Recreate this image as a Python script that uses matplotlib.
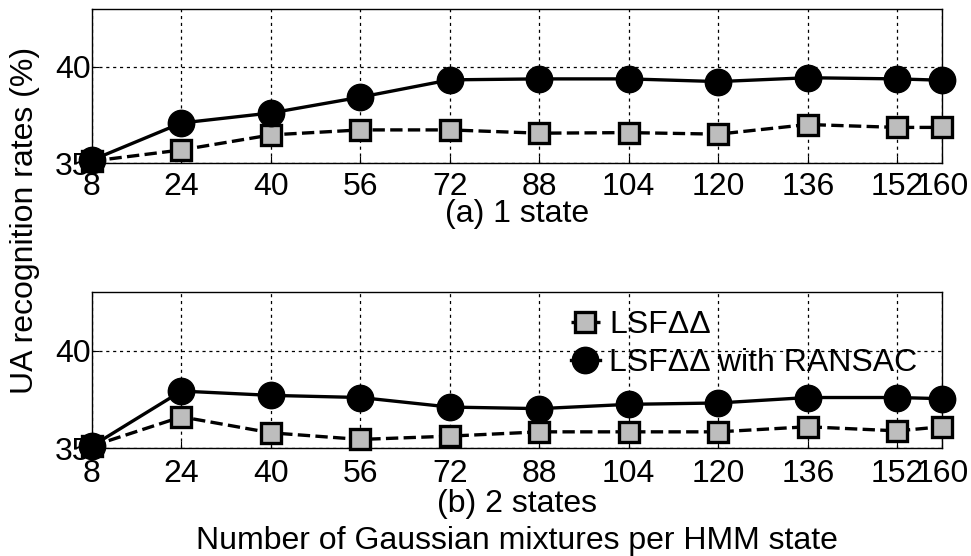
import numpy as np
import matplotlib
matplotlib.use("Agg")
import matplotlib.pyplot as plt

plt.rcParams['font.family'] = ['Liberation Sans', 'DejaVu Sans']

# 데이터
mixtures = [8, 24, 40, 56, 72, 88, 104, 120, 136, 152, 160]
lsf_1state = [35.1, 35.68, 36.46, 36.72, 36.72, 36.55, 36.58, 36.5, 37.0, 36.85, 36.85]
ransac_1state = [35.15, 37.08, 37.6, 38.42, 39.32, 39.37, 39.37, 39.23, 39.43, 39.37, 39.3]
lsf_2state = [35.1, 36.6, 35.78, 35.44, 35.61, 35.83, 35.83, 35.83, 36.09, 35.88, 36.09]
ransac_2state = [35.1, 37.92, 37.7, 37.59, 37.1, 37.02, 37.24, 37.31, 37.59, 37.59, 37.53]
y_ticks = [35, 40]
labels = ['LSF\u0394\u0394', 'LSF\u0394\u0394 with RANSAC']

fig = plt.figure(figsize=(9.71, 5.56), dpi=100)
ax1 = fig.add_axes([0.0947, 0.7068, 0.8754, 0.277])
ax2 = fig.add_axes([0.0947, 0.1942, 0.8754, 0.2806])

fs = 23

def draw(ax, lsf, ransac, title, pad, lpad):
    ax.plot(mixtures, lsf, '--', color='black', lw=2.4, marker='s', ms=15,
            mfc='#bdbdbd', mec='black', mew=2.4, label=labels[0], zorder=3,
            clip_on=False)
    ax.plot(mixtures, ransac, '-', color='black', lw=2.4, marker='o', ms=19,
            mfc='black', mec='black', label=labels[1], zorder=4, clip_on=False)
    ax.set_xlim(8, 160)
    ax.set_ylim(35, 43)
    ax.set_xticks(mixtures)
    ax.set_yticks(y_ticks)
    ax.tick_params(axis='y', direction='in', labelsize=fs, length=5, pad=1)
    ax.tick_params(axis='x', direction='in', labelsize=fs, length=5, pad=pad)
    ax.grid(True, color='black', linestyle=(0, (2.5, 3)), linewidth=0.9)
    for s in ax.spines.values():
        s.set_linewidth(1.0)
    ax.set_xlabel(title, fontsize=fs, labelpad=lpad)

draw(ax1, lsf_1state, ransac_1state, '(a) 1 state', 6.5, -2)
draw(ax2, lsf_2state, ransac_2state, '(b) 2 states', 8, 0)

leg = ax2.legend(loc='upper left', bbox_to_anchor=(0.541, 1.005), frameon=False,
                 fontsize=fs, handlelength=0.9, handletextpad=0.3,
                 labelspacing=0.24, borderaxespad=0.2)

fig.text(0.0947 + 0.8754 / 2, 0.0, 'Number of Gaussian mixtures per HMM state',
         ha='center', va='bottom', fontsize=fs)
fig.text(0.026, 1 - 220 / 556, 'UA recognition rates (%)', rotation=90,
         ha='center', va='center', fontsize=fs)

fig.savefig('out.png', dpi=100)
